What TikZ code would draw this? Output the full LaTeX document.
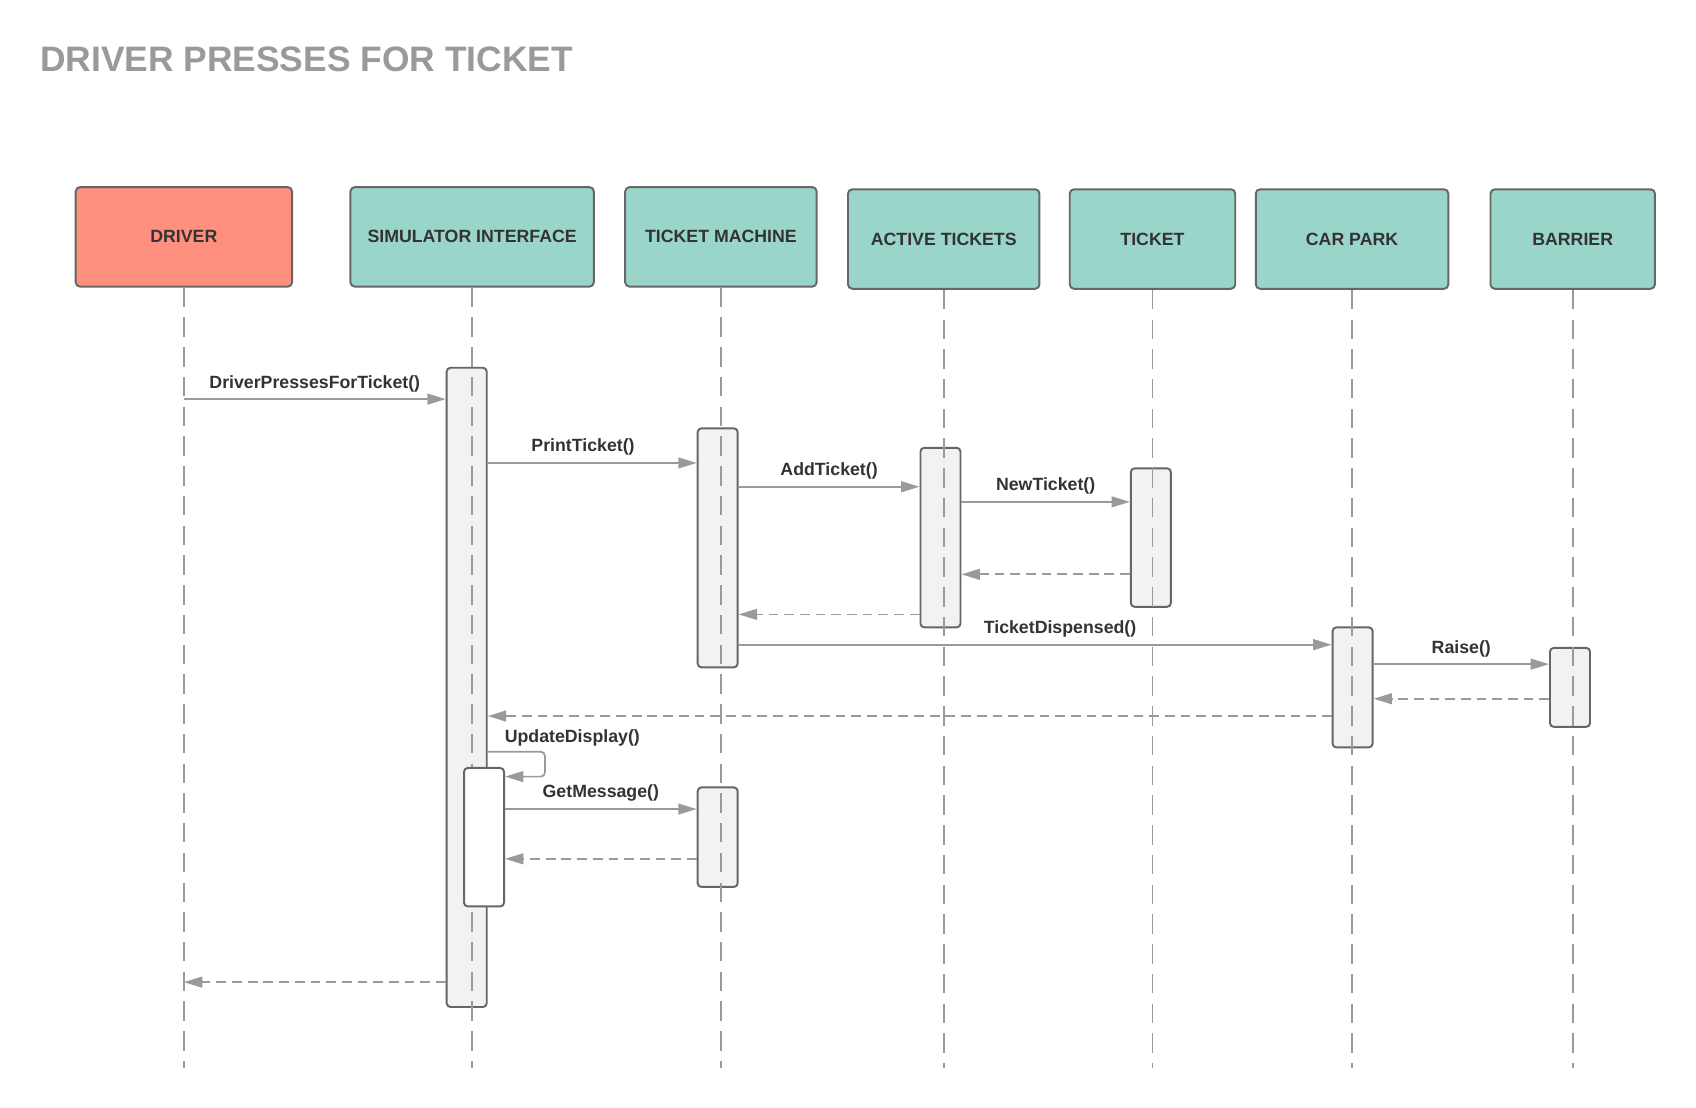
\documentclass[tikz,border=0pt]{standalone}
\usepackage{fontspec}
\setmainfont{Liberation Sans}
\usepackage{xcolor}
\usetikzlibrary{arrows.meta,positioning}

\definecolor{actorred}{HTML}{FF9080}
\definecolor{actorteal}{HTML}{9AD5CA}
\definecolor{edgegray}{HTML}{666666}
\definecolor{wiregray}{HTML}{9A9A9A}
\definecolor{ink}{HTML}{333333}
\definecolor{barfill}{HTML}{F2F2F2}

\begin{document}
\begin{tikzpicture}[
    x=1pt, y=-1pt,
    actor/.style={rectangle, draw=edgegray, line width=1.8pt, rounded corners=4pt, fill=actorteal, minimum height=92pt, inner sep=0pt, text=ink, font=\bfseries\fontsize{16.4}{19}\selectfont},
    human/.style={actor, fill=actorred},
    bar/.style={rectangle, draw=edgegray, line width=1.8pt, rounded corners=3.5pt, fill=barfill, minimum width=37pt, inner sep=0pt},
    life/.style={draw=wiregray, line width=1.8pt, dash pattern=on 18pt off 9.5pt},
    call/.style={draw=wiregray, line width=1.6pt, -{Triangle[length=17pt,width=10pt]}},
    reply/.style={call, dash pattern=on 9pt off 5.5pt},
    lbl/.style={inner sep=0pt, text=ink, font=\bfseries\fontsize{16.4}{19}\selectfont}
]
    \fill[white] (0,0) rectangle (1568,1024);
    \node[anchor=base west, inner sep=0pt, text=wiregray, font=\bfseries\fontsize{32.7}{38}\selectfont] (title) at (37,66) {DRIVER PRESSES FOR TICKET};

    \node[human, minimum width=200pt] (driver) at (170,219) {DRIVER};
    \node[actor, minimum width=225pt] (sim) at (436.5,219) {SIMULATOR INTERFACE};
    \node[actor, minimum width=177pt] (machine) at (666.5,219) {TICKET MACHINE};
    \node[actor, minimum width=177pt] (active) at (872.5,221) {ACTIVE TICKETS};
    \node[actor, minimum width=153pt] (ticket) at (1065.5,221) {TICKET};
    \node[actor, minimum width=178pt] (carpark) at (1250,221) {CAR PARK};
    \node[actor, minimum width=152pt] (barrier) at (1454,221) {BARRIER};
    \coordinate (bottom) at (0,987);

    \node[bar, minimum height=591pt] (simbar) at (431.5,635.5) {};
    \node[bar, minimum height=221pt] (tmbar) at (663.5,506.5) {};
    \node[bar, minimum height=92pt] (tmbar2) at (663.5,774) {};
    \node[bar, minimum height=166pt] (atbar) at (869.5,497) {};
    \node[bar, minimum height=128pt] (tkbar) at (1064,497) {};
    \node[bar, minimum height=111pt] (cpbar) at (1250.5,635.5) {};
    \node[bar, minimum height=73pt] (brbar) at (1451.5,635.5) {};

    \draw[life] (driver.south) -- (driver.south |- bottom);
    \draw[life] (sim.south) -- (sim.south |- bottom);
    \draw[life] (machine.south) -- (machine.south |- bottom);
    \draw[life] (active.south) -- (active.south |- bottom);
    \draw[life] (ticket.south) -- (ticket.south |- bottom);
    \draw[life] (carpark.south) -- (carpark.south |- bottom);
    \draw[life] (barrier.south) -- (barrier.south |- bottom);

    \node[bar, fill=white, minimum height=128pt] (subbar) at (447.5,774) {};

    \draw[call] (driver.south |- 0,369) -- (simbar.west |- 0,369) node[lbl, midway, yshift=14.5pt] {DriverPressesForTicket()};
    \draw[call] (simbar.east |- 0,428) -- (tmbar.west |- 0,428) node[lbl, pos=0.456, yshift=14.5pt] {PrintTicket()};
    \draw[call] (tmbar.east |- 0,450) -- (atbar.west |- 0,450) node[lbl, midway, yshift=14.5pt] {AddTicket()};
    \draw[call] (atbar.east |- 0,464) -- (tkbar.west |- 0,464) node[lbl, midway, yshift=14.5pt] {NewTicket()};
    \draw[reply] (tkbar.west |- 0,531) -- (atbar.east |- 0,531);
    \draw[reply] (atbar.west |- 0,568) -- (tmbar.east |- 0,568);
    \draw[call] (tmbar.east |- 0,596) -- (cpbar.west |- 0,596) node[lbl, pos=0.542, yshift=14.5pt] {TicketDispensed()};
    \draw[call] (cpbar.east |- 0,614) -- (brbar.west |- 0,614) node[lbl, midway, yshift=14.5pt] {Raise()};
    \draw[reply] (brbar.west |- 0,646) -- (cpbar.east |- 0,646);
    \draw[reply] (cpbar.west |- 0,662) -- (simbar.east |- 0,662);
    \draw[call, rounded corners=4pt] (simbar.east |- 0,695) node[lbl, anchor=west, xshift=15pt, yshift=13pt] {UpdateDisplay()} -- ++(53,0) -- ++(0,23) -- (subbar.east |- 0,718);
    \draw[call] (subbar.east |- 0,748) -- (tmbar2.west |- 0,748) node[lbl, midway, yshift=14.5pt] {GetMessage()};
    \draw[reply] (tmbar2.west |- 0,794) -- (subbar.east |- 0,794);
    \draw[reply] (simbar.west |- 0,908) -- (driver.south |- 0,908);
\end{tikzpicture}
\end{document}
